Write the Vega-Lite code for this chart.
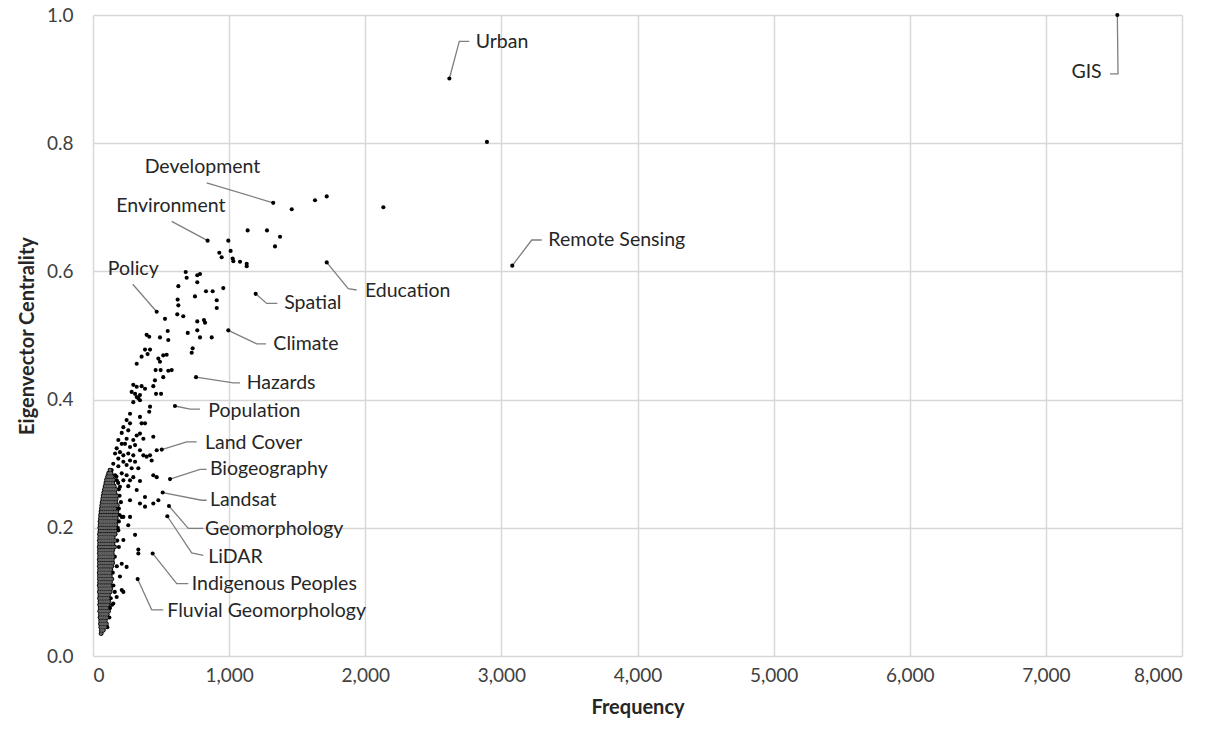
{
  "$schema": "https://vega.github.io/schema/vega-lite/v6.json",
  "autosize": "none",
  "width": 1089,
  "height": 641,
  "padding": {"left": 93, "top": 15, "right": 34, "bottom": 90},
  "background": "white",
  "config": {
    "view": {"stroke": null},
    "font": "Lato",
    "axis": {"domain": false, "ticks": false, "grid": true, "gridColor": "#d6d6d6", "gridWidth": 1.4, "labelFont": "Lato", "labelFontSize": 19, "labelColor": "#404040", "titleFont": "Lato", "titleFontSize": 20, "titleFontWeight": "bold", "titleColor": "#262626"}
  },
  "datasets": {
    "pts": [
      {"x":7525,"y":1.0},{"x":2618,"y":0.901},{"x":2894,"y":0.802},{"x":3080,"y":0.609},{"x":2133,"y":0.700},{"x":1717,"y":0.717},{"x":1631,"y":0.711},{"x":1460,"y":0.697},{"x":1324,"y":0.707},{"x":1717,"y":0.614},{"x":842,"y":0.648},{"x":994,"y":0.648},{"x":1136,"y":0.664},{"x":1278,"y":0.664},{"x":1374,"y":0.654},{"x":1337,"y":0.639},{"x":928,"y":0.629},{"x":945,"y":0.622},{"x":1011,"y":0.632},{"x":1026,"y":0.620},{"x":1031,"y":0.616},{"x":1080,"y":0.615},{"x":1129,"y":0.612},{"x":1129,"y":0.608},
      {"x":468,"y":0.537},{"x":529,"y":0.526},{"x":627,"y":0.577},{"x":681,"y":0.599},{"x":688,"y":0.590},{"x":766,"y":0.594},{"x":786,"y":0.596},{"x":766,"y":0.583},{"x":830,"y":0.569},{"x":879,"y":0.569},{"x":957,"y":0.574},{"x":749,"y":0.561},{"x":622,"y":0.556},{"x":627,"y":0.547},{"x":619,"y":0.533},{"x":663,"y":0.530},{"x":909,"y":0.555},{"x":909,"y":0.543},{"x":1195,"y":0.565},{"x":766,"y":0.522},{"x":815,"y":0.524},{"x":823,"y":0.520},{"x":994,"y":0.508},{"x":696,"y":0.504},{"x":766,"y":0.508},{"x":786,"y":0.497},{"x":872,"y":0.497},{"x":549,"y":0.507},{"x":492,"y":0.497},{"x":553,"y":0.493},{"x":394,"y":0.501},{"x":413,"y":0.498},{"x":732,"y":0.480},{"x":725,"y":0.473},{"x":382,"y":0.478},{"x":419,"y":0.478},{"x":357,"y":0.467},{"x":401,"y":0.471},{"x":480,"y":0.464},{"x":492,"y":0.459},{"x":516,"y":0.469},{"x":541,"y":0.470},{"x":321,"y":0.456},{"x":757,"y":0.435},{"x":460,"y":0.446},{"x":497,"y":0.446},{"x":578,"y":0.446},{"x":553,"y":0.445},{"x":516,"y":0.435},{"x":455,"y":0.430},{"x":296,"y":0.423},{"x":321,"y":0.420},{"x":357,"y":0.421},{"x":382,"y":0.417},{"x":309,"y":0.409},{"x":345,"y":0.407},{"x":333,"y":0.402},{"x":443,"y":0.421},{"x":463,"y":0.409},{"x":500,"y":0.409},{"x":419,"y":0.389},{"x":413,"y":0.381},{"x":602,"y":0.390},
      {"x":284,"y":0.412},{"x":321,"y":0.404},{"x":345,"y":0.399},{"x":296,"y":0.396},{"x":272,"y":0.378},{"x":247,"y":0.368},{"x":272,"y":0.363},{"x":345,"y":0.373},{"x":357,"y":0.363},{"x":382,"y":0.363},{"x":223,"y":0.357},{"x":211,"y":0.348},{"x":259,"y":0.352},{"x":321,"y":0.344},{"x":345,"y":0.347},{"x":370,"y":0.339},{"x":296,"y":0.337},{"x":247,"y":0.339},{"x":443,"y":0.342},{"x":186,"y":0.337},{"x":211,"y":0.331},{"x":235,"y":0.331},{"x":272,"y":0.326},{"x":309,"y":0.329},{"x":345,"y":0.321},{"x":505,"y":0.322},{"x":468,"y":0.321},{"x":174,"y":0.324},{"x":162,"y":0.316},{"x":198,"y":0.318},{"x":223,"y":0.313},{"x":259,"y":0.316},{"x":296,"y":0.313},{"x":370,"y":0.313},{"x":394,"y":0.311},{"x":431,"y":0.305},{"x":419,"y":0.313},{"x":186,"y":0.308},{"x":223,"y":0.303},{"x":272,"y":0.305},{"x":309,"y":0.303},{"x":149,"y":0.300},{"x":186,"y":0.296},{"x":247,"y":0.298},{"x":284,"y":0.293},{"x":333,"y":0.293},{"x":137,"y":0.290},{"x":162,"y":0.282},{"x":211,"y":0.285},{"x":247,"y":0.282},{"x":296,"y":0.279},{"x":566,"y":0.276},{"x":443,"y":0.282},{"x":468,"y":0.279},{"x":125,"y":0.274},{"x":174,"y":0.274},{"x":223,"y":0.274},{"x":272,"y":0.274},{"x":345,"y":0.273},{"x":112,"y":0.264},{"x":198,"y":0.264},{"x":259,"y":0.265},{"x":321,"y":0.259},{"x":512,"y":0.255},{"x":480,"y":0.243},{"x":382,"y":0.248},{"x":345,"y":0.238},{"x":382,"y":0.233},{"x":443,"y":0.238},{"x":272,"y":0.243},{"x":558,"y":0.234},{"x":546,"y":0.218},{"x":223,"y":0.217},{"x":211,"y":0.217},{"x":272,"y":0.217},{"x":186,"y":0.196},{"x":259,"y":0.204},{"x":309,"y":0.189},{"x":333,"y":0.166},{"x":333,"y":0.160},{"x":438,"y":0.160},{"x":247,"y":0.139},{"x":328,"y":0.120},{"x":223,"y":0.100},{"x":198,"y":0.124},{"x":211,"y":0.144},{"x":223,"y":0.181},{"x":211,"y":0.103},{"x":174,"y":0.092},{"x":149,"y":0.082},
      {"x":160,"y":0.10},{"x":150,"y":0.11},{"x":145,"y":0.13},{"x":175,"y":0.14},{"x":160,"y":0.155},{"x":190,"y":0.17},{"x":178,"y":0.18},{"x":162,"y":0.19},{"x":182,"y":0.20},{"x":190,"y":0.21},{"x":195,"y":0.22},{"x":205,"y":0.24},{"x":195,"y":0.25},{"x":190,"y":0.26},{"x":185,"y":0.27},{"x":172,"y":0.28},{"x":140,"y":0.08},{"x":125,"y":0.075},{"x":130,"y":0.09},{"x":120,"y":0.06},{"x":105,"y":0.045},{"x":190,"y":0.23}
    ],
    "dense": [
      {"x":60,"y":0.035},{"x":62,"y":0.04},{"x":75,"y":0.04},{"x":58,"y":0.045},{"x":72,"y":0.045},{"x":88,"y":0.045},{"x":55,"y":0.05},{"x":70,"y":0.05},{"x":85,"y":0.05},{"x":98,"y":0.05},{"x":57,"y":0.055},{"x":74,"y":0.055},{"x":90,"y":0.055},
      {"x":52,"y":0.06},{"x":68,"y":0.06},{"x":84,"y":0.06},{"x":100,"y":0.06},{"x":55,"y":0.065},{"x":72,"y":0.065},{"x":89,"y":0.065},{"x":104,"y":0.065},
      {"x":50,"y":0.07},{"x":66,"y":0.07},{"x":82,"y":0.07},{"x":98,"y":0.07},{"x":114,"y":0.07},{"x":53,"y":0.075},{"x":70,"y":0.075},{"x":86,"y":0.075},{"x":102,"y":0.075},
      {"x":49,"y":0.08},{"x":64,"y":0.08},{"x":80,"y":0.08},{"x":96,"y":0.08},{"x":110,"y":0.08},{"x":52,"y":0.085},{"x":68,"y":0.085},{"x":84,"y":0.085},{"x":100,"y":0.085},{"x":116,"y":0.085},
      {"x":48,"y":0.09},{"x":63,"y":0.09},{"x":79,"y":0.09},{"x":95,"y":0.09},{"x":111,"y":0.09},{"x":51,"y":0.095},{"x":67,"y":0.095},{"x":83,"y":0.095},{"x":99,"y":0.095},{"x":114,"y":0.095},
      {"x":47,"y":0.10},{"x":62,"y":0.10},{"x":78,"y":0.10},{"x":94,"y":0.10},{"x":110,"y":0.10},{"x":126,"y":0.10},{"x":50,"y":0.105},{"x":66,"y":0.105},{"x":82,"y":0.105},{"x":98,"y":0.105},{"x":114,"y":0.105},{"x":130,"y":0.105},
      {"x":46,"y":0.11},{"x":61,"y":0.11},{"x":77,"y":0.11},{"x":93,"y":0.11},{"x":109,"y":0.11},{"x":124,"y":0.11},{"x":49,"y":0.115},{"x":65,"y":0.115},{"x":81,"y":0.115},{"x":97,"y":0.115},{"x":113,"y":0.115},{"x":128,"y":0.115},
      {"x":47,"y":0.12},{"x":60,"y":0.12},{"x":76,"y":0.12},{"x":92,"y":0.12},{"x":108,"y":0.12},{"x":123,"y":0.12},{"x":138,"y":0.12},{"x":48,"y":0.125},{"x":64,"y":0.125},{"x":80,"y":0.125},{"x":96,"y":0.125},{"x":112,"y":0.125},{"x":127,"y":0.125},
      {"x":46,"y":0.13},{"x":61,"y":0.13},{"x":77,"y":0.13},{"x":93,"y":0.13},{"x":109,"y":0.13},{"x":125,"y":0.13},{"x":49,"y":0.135},{"x":65,"y":0.135},{"x":81,"y":0.135},{"x":97,"y":0.135},{"x":113,"y":0.135},{"x":130,"y":0.135},
      {"x":47,"y":0.14},{"x":60,"y":0.14},{"x":76,"y":0.14},{"x":92,"y":0.14},{"x":108,"y":0.14},{"x":124,"y":0.14},{"x":138,"y":0.14},{"x":48,"y":0.145},{"x":64,"y":0.145},{"x":80,"y":0.145},{"x":96,"y":0.145},{"x":112,"y":0.145},{"x":128,"y":0.145},{"x":144,"y":0.145},
      {"x":46,"y":0.15},{"x":62,"y":0.15},{"x":78,"y":0.15},{"x":94,"y":0.15},{"x":110,"y":0.15},{"x":126,"y":0.15},{"x":142,"y":0.15},{"x":49,"y":0.155},{"x":65,"y":0.155},{"x":81,"y":0.155},{"x":97,"y":0.155},{"x":113,"y":0.155},{"x":129,"y":0.155},{"x":146,"y":0.155},
      {"x":47,"y":0.16},{"x":61,"y":0.16},{"x":77,"y":0.16},{"x":93,"y":0.16},{"x":109,"y":0.16},{"x":125,"y":0.16},{"x":141,"y":0.16},{"x":48,"y":0.165},{"x":64,"y":0.165},{"x":80,"y":0.165},{"x":96,"y":0.165},{"x":112,"y":0.165},{"x":128,"y":0.165},{"x":144,"y":0.165},
      {"x":46,"y":0.17},{"x":62,"y":0.17},{"x":78,"y":0.17},{"x":94,"y":0.17},{"x":110,"y":0.17},{"x":126,"y":0.17},{"x":142,"y":0.17},{"x":158,"y":0.17},{"x":49,"y":0.175},{"x":65,"y":0.175},{"x":81,"y":0.175},{"x":97,"y":0.175},{"x":113,"y":0.175},{"x":129,"y":0.175},{"x":146,"y":0.175},
      {"x":47,"y":0.18},{"x":63,"y":0.18},{"x":79,"y":0.18},{"x":95,"y":0.18},{"x":111,"y":0.18},{"x":127,"y":0.18},{"x":143,"y":0.18},{"x":160,"y":0.18},{"x":50,"y":0.185},{"x":66,"y":0.185},{"x":82,"y":0.185},{"x":98,"y":0.185},{"x":114,"y":0.185},{"x":130,"y":0.185},{"x":147,"y":0.185},
      {"x":48,"y":0.19},{"x":64,"y":0.19},{"x":80,"y":0.19},{"x":96,"y":0.19},{"x":112,"y":0.19},{"x":128,"y":0.19},{"x":144,"y":0.19},{"x":162,"y":0.19},{"x":51,"y":0.195},{"x":67,"y":0.195},{"x":83,"y":0.195},{"x":99,"y":0.195},{"x":115,"y":0.195},{"x":131,"y":0.195},{"x":148,"y":0.195},{"x":164,"y":0.195},
      {"x":50,"y":0.20},{"x":66,"y":0.20},{"x":82,"y":0.20},{"x":98,"y":0.20},{"x":114,"y":0.20},{"x":130,"y":0.20},{"x":146,"y":0.20},{"x":163,"y":0.20},{"x":53,"y":0.205},{"x":69,"y":0.205},{"x":85,"y":0.205},{"x":101,"y":0.205},{"x":117,"y":0.205},{"x":133,"y":0.205},{"x":150,"y":0.205},{"x":167,"y":0.205},
      {"x":52,"y":0.21},{"x":68,"y":0.21},{"x":84,"y":0.21},{"x":100,"y":0.21},{"x":116,"y":0.21},{"x":132,"y":0.21},{"x":148,"y":0.21},{"x":165,"y":0.21},{"x":55,"y":0.215},{"x":71,"y":0.215},{"x":87,"y":0.215},{"x":103,"y":0.215},{"x":119,"y":0.215},{"x":135,"y":0.215},{"x":152,"y":0.215},{"x":170,"y":0.215},
      {"x":56,"y":0.22},{"x":72,"y":0.22},{"x":88,"y":0.22},{"x":104,"y":0.22},{"x":120,"y":0.22},{"x":136,"y":0.22},{"x":155,"y":0.22},{"x":172,"y":0.22},{"x":59,"y":0.225},{"x":75,"y":0.225},{"x":91,"y":0.225},{"x":107,"y":0.225},{"x":123,"y":0.225},{"x":139,"y":0.225},{"x":158,"y":0.225},{"x":175,"y":0.225},
      {"x":62,"y":0.23},{"x":78,"y":0.23},{"x":94,"y":0.23},{"x":110,"y":0.23},{"x":126,"y":0.23},{"x":142,"y":0.23},{"x":160,"y":0.23},{"x":65,"y":0.235},{"x":81,"y":0.235},{"x":97,"y":0.235},{"x":113,"y":0.235},{"x":129,"y":0.235},{"x":145,"y":0.235},{"x":163,"y":0.235},{"x":178,"y":0.235},
      {"x":68,"y":0.24},{"x":84,"y":0.24},{"x":100,"y":0.24},{"x":116,"y":0.24},{"x":132,"y":0.24},{"x":148,"y":0.24},{"x":166,"y":0.24},{"x":72,"y":0.245},{"x":88,"y":0.245},{"x":104,"y":0.245},{"x":120,"y":0.245},{"x":136,"y":0.245},{"x":152,"y":0.245},{"x":170,"y":0.245},
      {"x":75,"y":0.25},{"x":91,"y":0.25},{"x":107,"y":0.25},{"x":123,"y":0.25},{"x":139,"y":0.25},{"x":156,"y":0.25},{"x":173,"y":0.25},{"x":80,"y":0.255},{"x":96,"y":0.255},{"x":112,"y":0.255},{"x":128,"y":0.255},{"x":144,"y":0.255},{"x":160,"y":0.255},
      {"x":85,"y":0.26},{"x":101,"y":0.26},{"x":117,"y":0.26},{"x":133,"y":0.26},{"x":150,"y":0.26},{"x":166,"y":0.26},{"x":90,"y":0.265},{"x":106,"y":0.265},{"x":122,"y":0.265},{"x":138,"y":0.265},{"x":155,"y":0.265},
      {"x":95,"y":0.27},{"x":111,"y":0.27},{"x":127,"y":0.27},{"x":145,"y":0.27},{"x":100,"y":0.275},{"x":116,"y":0.275},{"x":132,"y":0.275},{"x":150,"y":0.275},{"x":108,"y":0.28},{"x":124,"y":0.28},{"x":140,"y":0.28},{"x":116,"y":0.285},{"x":132,"y":0.285},{"x":125,"y":0.29}
    ],
    "leaders": [
      {"label":"Urban","o":1,"x":2618,"y":0.901},{"label":"Urban","o":2,"x":2691,"y":0.959},{"label":"Urban","o":3,"x":2764,"y":0.959},
      {"label":"GIS","o":1,"x":7525,"y":1.0},{"label":"GIS","o":2,"x":7530,"y":0.908},{"label":"GIS","o":3,"x":7471,"y":0.908},
      {"label":"Remote Sensing","o":1,"x":3080,"y":0.609},{"label":"Remote Sensing","o":2,"x":3223,"y":0.649},{"label":"Remote Sensing","o":3,"x":3296,"y":0.649},
      {"label":"Development","o":1,"x":1324,"y":0.707},{"label":"Development","o":2,"x":835,"y":0.738},
      {"label":"Environment","o":1,"x":842,"y":0.648},{"label":"Environment","o":2,"x":578,"y":0.678},
      {"label":"Policy","o":1,"x":468,"y":0.537},{"label":"Policy","o":2,"x":292,"y":0.580},
      {"label":"Education","o":1,"x":1717,"y":0.614},{"label":"Education","o":2,"x":1875,"y":0.573},{"label":"Education","o":3,"x":1937,"y":0.571},
      {"label":"Spatial","o":1,"x":1195,"y":0.565},{"label":"Spatial","o":2,"x":1276,"y":0.550},{"label":"Spatial","o":3,"x":1354,"y":0.550},
      {"label":"Climate","o":1,"x":994,"y":0.508},{"label":"Climate","o":2,"x":1202,"y":0.487},{"label":"Climate","o":3,"x":1271,"y":0.487},
      {"label":"Hazards","o":1,"x":757,"y":0.435},{"label":"Hazards","o":2,"x":1031,"y":0.426},{"label":"Hazards","o":3,"x":1080,"y":0.426},
      {"label":"Population","o":1,"x":602,"y":0.390},{"label":"Population","o":2,"x":713,"y":0.385},{"label":"Population","o":3,"x":786,"y":0.385},
      {"label":"Land Cover","o":1,"x":505,"y":0.322},{"label":"Land Cover","o":2,"x":688,"y":0.334},{"label":"Land Cover","o":3,"x":762,"y":0.334},
      {"label":"Biogeography","o":1,"x":566,"y":0.276},{"label":"Biogeography","o":2,"x":786,"y":0.291},{"label":"Biogeography","o":3,"x":834,"y":0.291},
      {"label":"Landsat","o":1,"x":512,"y":0.255},{"label":"Landsat","o":2,"x":798,"y":0.243},{"label":"Landsat","o":3,"x":835,"y":0.243},
      {"label":"Geomorphology","o":1,"x":558,"y":0.234},{"label":"Geomorphology","o":2,"x":700,"y":0.199},{"label":"Geomorphology","o":3,"x":810,"y":0.199},
      {"label":"LiDAR","o":1,"x":546,"y":0.218},{"label":"LiDAR","o":2,"x":725,"y":0.161},{"label":"LiDAR","o":3,"x":810,"y":0.157},
      {"label":"Indigenous Peoples","o":1,"x":438,"y":0.160},{"label":"Indigenous Peoples","o":2,"x":615,"y":0.113},{"label":"Indigenous Peoples","o":3,"x":700,"y":0.113},
      {"label":"Fluvial Geomorphology","o":1,"x":328,"y":0.120},{"label":"Fluvial Geomorphology","o":2,"x":431,"y":0.072},{"label":"Fluvial Geomorphology","o":3,"x":516,"y":0.072}
    ],
    "labelsLeft": [
      {"label":"Urban","x":2811,"y":0.958},{"label":"Remote Sensing","x":3345,"y":0.649},{"label":"Education","x":1998,"y":0.570},{"label":"Spatial","x":1405,"y":0.550},{"label":"Climate","x":1325,"y":0.487},{"label":"Hazards","x":1129,"y":0.426},{"label":"Population","x":847,"y":0.382},{"label":"Land Cover","x":823,"y":0.333},{"label":"Biogeography","x":859,"y":0.291},{"label":"Landsat","x":859,"y":0.243},{"label":"Geomorphology","x":823,"y":0.198},{"label":"LiDAR","x":847,"y":0.154},{"label":"Indigenous Peoples","x":725,"y":0.113},{"label":"Fluvial Geomorphology","x":546,"y":0.070}
    ],
    "labelsCenter": [
      {"label":"Development","x":804,"y":0.763},{"label":"Environment","x":572,"y":0.702},{"label":"Policy","x":296,"y":0.604}
    ],
    "labelsRight": [
      {"label":"GIS","x":7410,"y":0.911}
    ]
  },
  "layer": [
    {
      "data": {"name": "leaders"},
      "mark": {"type": "line", "color": "#7f7f7f", "strokeWidth": 1.3},
      "encoding": {
        "x": {"field": "x", "type": "quantitative", "scale": {"domain": [0, 8000], "nice": false}, "axis": {"values": [0,1000,2000,3000,4000,5000,6000,7000,8000], "format": ",.0f", "labelPadding": 10, "title": "Frequency", "titlePadding": 12}},
        "y": {"field": "y", "type": "quantitative", "scale": {"domain": [0, 1], "nice": false}, "axis": {"values": [0,0.2,0.4,0.6,0.8,1.0], "format": ".1f", "labelPadding": 20, "title": "Eigenvector Centrality", "titlePadding": 9}},
        "detail": {"field": "label"},
        "order": {"field": "o", "type": "quantitative"}
      }
    },
    {
      "data": {"name": "pts"},
      "mark": {"type": "circle", "size": 17, "color": "#000000", "opacity": 1},
      "encoding": {
        "x": {"field": "x", "type": "quantitative"},
        "y": {"field": "y", "type": "quantitative"}
      }
    },
    {
      "data": {"name": "dense"},
      "mark": {"type": "circle", "size": 24, "color": "#000000", "opacity": 1},
      "encoding": {
        "x": {"field": "x", "type": "quantitative"},
        "y": {"field": "y", "type": "quantitative"}
      }
    },
    {
      "data": {"name": "dense"},
      "mark": {"type": "circle", "size": 10, "color": "#606060", "opacity": 1},
      "encoding": {
        "x": {"field": "x", "type": "quantitative"},
        "y": {"field": "y", "type": "quantitative"}
      }
    },
    {
      "data": {"name": "labelsLeft"},
      "mark": {"type": "text", "align": "left", "baseline": "middle", "font": "Lato", "fontSize": 19.5, "color": "#262626"},
      "encoding": {
        "x": {"field": "x", "type": "quantitative"},
        "y": {"field": "y", "type": "quantitative"},
        "text": {"field": "label"}
      }
    },
    {
      "data": {"name": "labelsCenter"},
      "mark": {"type": "text", "align": "center", "baseline": "middle", "font": "Lato", "fontSize": 19.5, "color": "#262626"},
      "encoding": {
        "x": {"field": "x", "type": "quantitative"},
        "y": {"field": "y", "type": "quantitative"},
        "text": {"field": "label"}
      }
    },
    {
      "data": {"name": "labelsRight"},
      "mark": {"type": "text", "align": "right", "baseline": "middle", "font": "Lato", "fontSize": 19.5, "color": "#262626"},
      "encoding": {
        "x": {"field": "x", "type": "quantitative"},
        "y": {"field": "y", "type": "quantitative"},
        "text": {"field": "label"}
      }
    }
  ]
}
